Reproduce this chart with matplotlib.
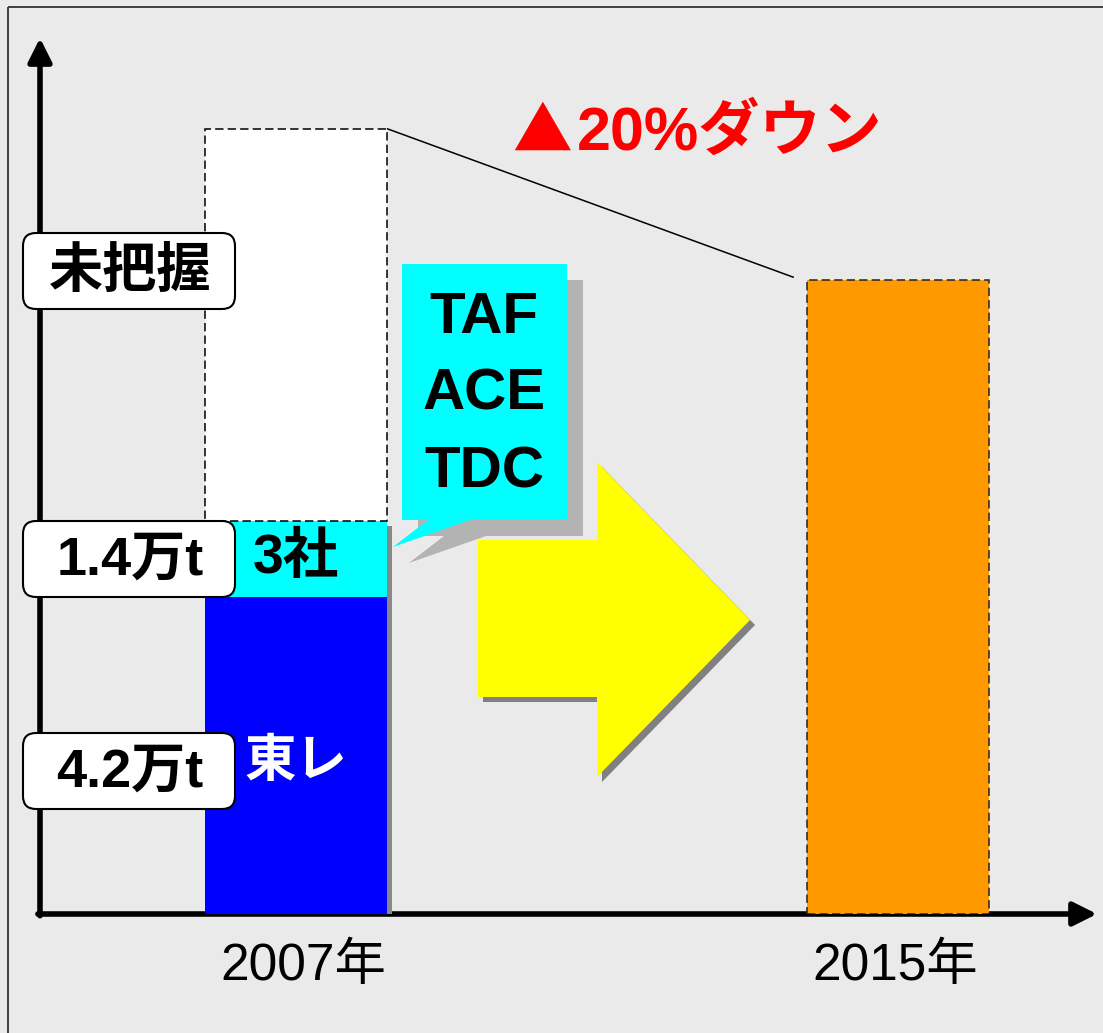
import matplotlib
matplotlib.use("Agg")
import matplotlib.pyplot as plt
import matplotlib.patheffects as pe
from matplotlib.patches import FancyBboxPatch, Polygon, Rectangle

plt.rcParams['font.family'] = ['Liberation Sans', 'Noto Sans CJK JP', 'DejaVu Sans']
plt.rcParams['lines.scale_dashes'] = False

# values (schematic units, same scale for both bars)
years = ["2007年", "2015年"]
toray = 4.2          # 東レ
three_companies = 1.0  # 3社 (TAF, ACE, TDC)
unknown = 5.2        # 未把握
total_2015 = 8.4     # about 20% below the 2007 total

segment_labels = ["東レ", "3社"]
value_labels = ["未把握", "1.4万t", "4.2万t"]
callout_lines = ["TAF", "ACE", "TDC"]
title_mark = "▲"
title = "20%ダウン"

bg = '#EAEAEA'
fig = plt.figure(figsize=(11.03, 10.33), dpi=100, facecolor=bg)

# bar axes: origin at pixel (40, 914), arrows end at x=1097 / y=38
W, H = 1103, 1033
bar_ax = fig.add_axes([40 / W, (H - 914) / H, (1097 - 40) / W, (914 - 38) / H])
bar_ax.set_facecolor('none')
bar_ax.set_xlim(-0.4252, 1.3306)
bar_ax.set_ylim(0, 11.6)
for s in bar_ax.spines.values():
    s.set_visible(False)
bar_ax.set_yticks([])
bar_ax.set_xticks([0.012, 0.995])
bar_ax.set_xticklabels(years, fontsize=37)
bar_ax.tick_params(axis='x', length=0, pad=20)

# axis arrows
arrow = dict(arrowstyle='-|>,head_length=1.1,head_width=0.55', lw=4.0, color='black',
             shrinkA=0, shrinkB=0, mutation_scale=13)
bar_ax.annotate('', xy=(0, 1), xytext=(0, -0.002), xycoords='axes fraction',
                arrowprops=arrow, zorder=1)
bar_ax.annotate('', xy=(1, 0), xytext=(-0.002, 0), xycoords='axes fraction',
                arrowprops=arrow, zorder=1)

w = 0.302
known = toray + three_companies
total_2007 = known + unknown

# shadow behind the known part of 2007
bar_ax.bar(0, known, w, color='none', zorder=2,
           path_effects=[pe.SimplePatchShadow(offset=(3.6, -3.6), shadow_rgbFace='#888888', alpha=1.0)])
bar_ax.bar(0, toray, w, color='#0000FF', zorder=3)
bar_ax.bar(0, three_companies, w, bottom=toray, color='#00FFFF', zorder=3)
bar_ax.bar(0, unknown, w, bottom=known, color='white', edgecolor='black',
           linewidth=1.1, linestyle=(0, (6, 3)), zorder=3)
bar_ax.bar(1, total_2015, w, color='#FF9900', edgecolor='#222222',
           linewidth=1.1, linestyle=(0, (6, 3)), zorder=3)

# connector from 2007 total to 2015 total
bar_ax.plot([w / 2, 1 - w / 2 - 0.022], [total_2007, total_2015 + 0.03],
            color='black', lw=1.1, zorder=3, solid_capstyle='butt')

bar_ax.text(0, toray + three_companies / 2, segment_labels[1], ha='center', va='center',
            fontsize=40, fontweight='bold', color='black', zorder=4)
bar_ax.text(0, 2.0, segment_labels[0], ha='center', va='center',
            fontsize=37, fontweight='bold', color='white', zorder=4)

# decoration layer in pixel coordinates
deco = fig.add_axes([0, 0, 1, 1], zorder=5)
deco.set_facecolor('none')
deco.set_xlim(0, W)
deco.set_ylim(H, 0)
deco.axis('off')

deco.add_patch(Rectangle((8, 7), 1200, 1200, facecolor='none', edgecolor='#333333', lw=1.3))

# value boxes on the y axis
for label, yc in zip(value_labels, [271, 559, 771]):
    deco.add_patch(FancyBboxPatch((23, yc - 38), 212, 76,
                                  boxstyle='round,pad=0,rounding_size=13',
                                  facecolor='white', edgecolor='black', lw=1.5))
    deco.text(130, yc + 2, label, ha='center', va='center', fontsize=39,
              fontweight='bold', color='black')

# callout with shadow
callout = [(402, 264), (567, 264), (567, 520), (470, 520), (393, 547), (428, 520), (402, 520)]
shadow = [(x + 16, y + 16) for x, y in callout]
deco.add_patch(Polygon(shadow, closed=True, facecolor='#B3B3B3', edgecolor='none'))
deco.add_patch(Polygon(callout, closed=True, facecolor='#00FFFF', edgecolor='none'))
for name, yc in zip(callout_lines, [318, 395, 472]):
    deco.text(484, yc, name, ha='center', va='center', fontsize=42,
              fontweight='bold', color='black')

# big yellow arrow
big = [(478, 540), (597, 540), (597, 462), (750, 620), (597, 777), (597, 697), (478, 697)]
deco.add_patch(Polygon([(x + 5, y + 5) for x, y in big], closed=True,
                       facecolor='#808080', edgecolor='none'))
deco.add_patch(Polygon(big, closed=True, facecolor='#FFFF00', edgecolor='none'))

deco.text(512, 134, title_mark, ha='left', va='center', fontsize=43,
          fontweight='bold', color='#FF0000', family='Noto Sans CJK JP')
deco.text(577, 134, title, ha='left', va='center', fontsize=44,
          fontweight='bold', color='#FF0000')

fig.savefig('out.png', dpi=100, facecolor=bg)
